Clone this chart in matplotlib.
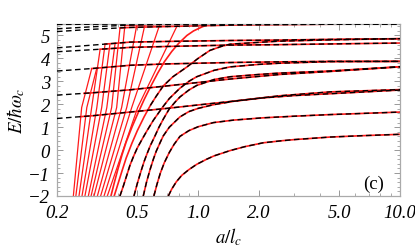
import numpy as np
import matplotlib
matplotlib.use("Agg")
import matplotlib.pyplot as plt
from matplotlib.ticker import FixedLocator, NullFormatter
from matplotlib.transforms import IdentityTransform

plt.rcParams["mathtext.fontset"] = "stix"

# ---- data ----
x_ticks = [0.2, 0.5, 1.0, 2.0, 5.0, 10.0]
x_tick_labels = ["0.2", "0.5", "1.0", "2.0", "5.0", "10.0"]
y_ticks = [-2, -1, 0, 1, 2, 3, 4, 5]
y_tick_labels = ["\u22122", "\u22121", "0", "1", "2", "3", "4", "5"]

# slowly rising "level" curves (black dashed; red underneath from first contact)
level_a = [0.2, 0.3, 0.46, 0.7, 1.0, 1.44, 2.54, 4.5, 10.0]
level_E = [
    [1.38, 1.50, 1.66, 1.82, 1.97, 2.12, 2.37, 2.54, 2.64],
    [2.40, 2.50, 2.63, 2.80, 2.95, 3.10, 3.30, 3.43, 3.63],
    [3.45, 3.56, 3.70, 3.76, 3.79, 3.82, 3.85, 3.87, 3.87],
    [4.29, 4.38, 4.48, 4.52, 4.55, 4.58, 4.60, 4.63, 4.67],
    [4.46, 4.58, 4.71, 4.74, 4.76, 4.78, 4.80, 4.83, 4.86],
    [5.17, 5.27, 5.35, 5.39, 5.42, 5.45, 5.47, 5.49, 5.50],
    [5.29, 5.38, 5.45, 5.48, 5.50, 5.50, 5.50, 5.50, 5.50],
    [5.48, 5.49, 5.50, 5.50, 5.50, 5.50, 5.50, 5.50, 5.50],
]
level_red_start = [0.261, 0.272, 0.297, 0.327, 0.346, 0.410, 0.434, 0.498]

# rising "edge" curves (red, black dashed on top from index dash_from on)
edge_a = [
    [0.712, 0.74, 0.78, 0.83, 0.9, 0.984, 1.1, 1.2, 1.44, 1.7, 2.1, 2.6, 3.0,
     4.5, 6.5, 10.0],
    [0.604, 0.625, 0.65, 0.68, 0.72, 0.76, 0.813, 0.9, 1.0, 1.19, 1.5, 2.1,
     3.0, 4.5, 6.5, 10.0],
    [0.535, 0.555, 0.578, 0.6, 0.62, 0.65, 0.672, 0.72, 0.813, 0.9, 1.0, 1.19,
     1.5, 2.1, 3.0, 4.5, 10.0],
    [0.481, 0.5, 0.52, 0.54, 0.556, 0.58, 0.61, 0.64, 0.672, 0.72, 0.77, 0.813,
     0.9, 0.984, 1.2, 1.44, 2.0, 2.54, 4.5, 10.0],
    [0.410, 0.425, 0.445, 0.46, 0.48, 0.5, 0.53, 0.556, 0.6, 0.64, 0.672, 0.72,
     0.813, 0.9, 0.984, 1.2, 1.44, 2.0, 2.54, 4.5, 10.0],
    [0.384, 0.40, 0.42, 0.44, 0.47, 0.50, 0.54, 0.58, 0.62, 0.672, 0.75, 0.878,
     1.0, 1.145, 1.3, 1.44, 2.0, 2.5, 4.5, 10.0],
    [0.370, 0.385, 0.40, 0.42, 0.44, 0.47, 0.50, 0.54, 0.58, 0.63, 0.68, 0.74,
     0.80, 0.88, 0.95, 1.05, 1.145],
]
edge_E = [
    [-2.0, -1.70, -1.38, -1.10, -0.85, -0.62, -0.40, -0.25, -0.02, 0.15, 0.32,
     0.41, 0.46, 0.57, 0.63, 0.69],
    [-2.0, -1.50, -1.00, -0.55, -0.10, 0.25, 0.60, 0.85, 1.02, 1.20, 1.31, 1.41,
     1.48, 1.55, 1.60, 1.66],
    [-2.0, -1.40, -0.85, -0.40, -0.05, 0.35, 0.62, 1.00, 1.45, 1.68, 1.82, 1.98,
     2.13, 2.28, 2.38, 2.46, 2.62],
    [-2.0, -1.45, -0.95, -0.50, -0.20, 0.20, 0.60, 1.00, 1.35, 1.80, 2.10, 2.32,
     2.62, 2.82, 3.08, 3.20, 3.30, 3.36, 3.45, 3.64],
    [-2.0, -1.60, -1.05, -0.65, -0.25, 0.10, 0.50, 0.82, 1.30, 1.65, 1.91, 2.25,
     2.70, 3.00, 3.20, 3.48, 3.63, 3.74, 3.79, 3.86, 3.87],
    [-2.0, -1.50, -0.90, -0.35, 0.30, 0.85, 1.45, 1.95, 2.35, 2.80, 3.20, 3.62,
     4.00, 4.35, 4.52, 4.62, 4.70, 4.75, 4.81, 4.86],
    [-2.0, -1.40, -0.85, -0.20, 0.35, 1.00, 1.55, 2.20, 2.75, 3.35, 3.85, 4.30,
     4.65, 5.00, 5.20, 5.38, 5.50],
]
edge_dash_from = [0, 0, 0, 0, 0, 7, 99]

# steep red curves: a at E=-2, a at E=1.86, end point (a, E)
steep_a_bottom = [0.241, 0.248, 0.257, 0.266, 0.275, 0.286, 0.295, 0.305,
                  0.317, 0.329, 0.342, 0.355]
steep_a_mid = [0.265, 0.281, 0.297, 0.315, 0.333, 0.353, 0.373, 0.395,
               0.418, 0.443, 0.469, 0.502]
steep_a_end = [0.297, 0.315, 0.327, 0.346, 0.366, 0.388, 0.410, 0.434,
               0.498, 0.546, 0.647, 0.795]
steep_E_end = [3.55, 3.58, 4.39, 4.62, 4.64, 4.66, 5.30, 5.46,
               5.50, 5.50, 5.50, 5.50]

fig = plt.figure(figsize=(4.15, 2.53), dpi=100)
ax = fig.add_axes([57/415, 56/253, 343/415, 172/253])
ax.set_xscale("log")
ax.set_xlim(0.2, 10.0)
ax.set_ylim(-2, 5.5)

red = "#ff1a1a"
dash = (0, (4, 2.5))
for a0, a1, a2, e2 in zip(steep_a_bottom, steep_a_mid, steep_a_end, steep_E_end):
    ax.plot([a0, a1, a2], [-2.0, 1.86, e2], color=red, lw=0.9, zorder=2)

for Es, ar in zip(level_E, level_red_start):
    la = np.array(level_a)
    le = np.array(Es)
    m = la >= ar
    i = 0 if ar <= la[1] else 1
    e_at = le[i] + (le[i + 1] - le[i]) * (np.log(ar / la[i]) / np.log(la[i + 1] / la[i]))
    ax.plot(np.r_[ar, la[m]], np.r_[e_at, le[m]], color=red, lw=1.2, zorder=2)
    ax.plot(level_a, Es, color="black", lw=1.0, ls=dash, zorder=3)

for aa, ee, k in zip(edge_a, edge_E, edge_dash_from):
    ax.plot(aa, ee, color=red, lw=1.2, zorder=2)
    if k < len(aa):
        ax.plot(aa[k:], ee[k:], color="black", lw=1.0, ls=dash, zorder=3)

serif = "Liberation Serif"
ax.xaxis.set_major_locator(FixedLocator(x_ticks))
ax.xaxis.set_minor_locator(FixedLocator([0.3, 0.4, 0.6, 0.7, 0.8, 0.9, 3, 4, 6, 7, 8, 9]))
ax.xaxis.set_minor_formatter(NullFormatter())
ax.set_xticklabels(x_tick_labels, fontfamily=serif, fontstyle="italic", fontsize=13.5)
ax.set_yticks(y_ticks)
ax.set_yticks(np.arange(-2, 5.51, 0.2), minor=True)
ax.set_yticklabels(y_tick_labels, fontfamily=serif, fontstyle="italic", fontsize=13.5)
ax.tick_params(which="both", direction="in", top=True, right=True, color="#888888")
ax.tick_params(which="major", length=4, width=0.6)
ax.tick_params(axis="x", which="major", pad=6)
ax.tick_params(axis="y", which="major", pad=5)
ax.tick_params(which="minor", length=2, width=0.5)
for s in ax.spines.values():
    s.set_color("#aaaaaa")
    s.set_linewidth(0.9)

ax.set_xlabel(r"$a/l_c$", fontsize=13.5, labelpad=3)
ax.set_ylabel(r"$E/\hbar\omega_c$", fontsize=13.5, labelpad=1)
t = ax.text(384, 253 - 189, "(c)", ha="right", va="baseline",
            fontfamily=serif, fontsize=13.5)
t.set_transform(IdentityTransform())

fig.savefig("out.png", dpi=100)
